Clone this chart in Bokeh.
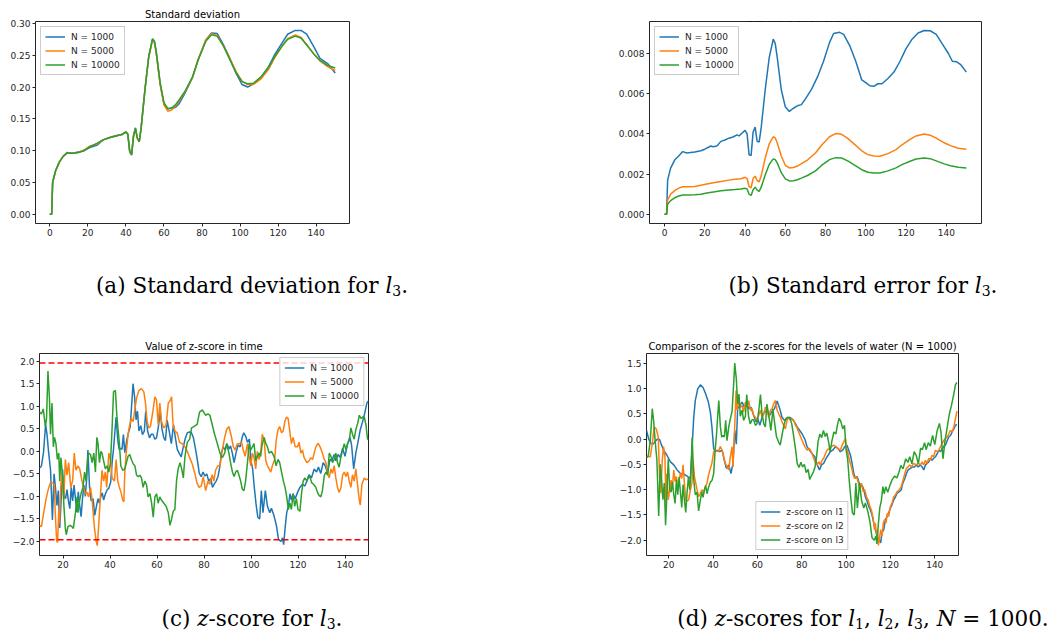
from bokeh.plotting import figure
from bokeh.layouts import column, row
from bokeh.models import (Div, Spacer, Legend, LegendItem, Span, Label, Range1d,
                          FixedTicker, CustomJSTickFormatter)
from bokeh.embed import file_html
from bokeh.resources import INLINE

# ---------------- data ----------------
# (a) standard deviation of l3
sd_x = [0, 1, 1.5, 3, 5, 7, 9, 12, 15, 18, 21, 25, 28, 32, 35, 38, 40, 41, 42, 43,
        44, 45, 46, 47, 48, 50, 52, 54, 55, 56, 58, 60, 62, 64, 66, 68, 71, 75, 78, 82,
        85, 88, 91, 94, 98, 101, 104, 107, 111, 115, 118, 122, 125, 129, 132, 135, 139, 142, 146, 150]
sd_n1000 = [0.0, 0.0, 0.05, 0.068, 0.082, 0.091, 0.097, 0.096, 0.098, 0.100,
            0.105, 0.109, 0.117, 0.121, 0.124, 0.125, 0.130, 0.126, 0.098, 0.093,
            0.124, 0.136, 0.120, 0.114, 0.136, 0.196, 0.248, 0.275, 0.271, 0.253,
            0.205, 0.173, 0.166, 0.167, 0.168, 0.174, 0.190, 0.215, 0.243, 0.274,
            0.285, 0.284, 0.268, 0.249, 0.221, 0.204, 0.200, 0.205, 0.215, 0.232,
            0.250, 0.269, 0.283, 0.289, 0.289, 0.283, 0.262, 0.245, 0.237, 0.222]
sd_n5000 = [0.0, 0.0, 0.05, 0.068, 0.082, 0.091, 0.096, 0.096, 0.097, 0.101,
            0.107, 0.111, 0.117, 0.121, 0.123, 0.126, 0.129, 0.126, 0.099, 0.094,
            0.123, 0.135, 0.119, 0.114, 0.136, 0.196, 0.247, 0.274, 0.270, 0.252,
            0.204, 0.172, 0.162, 0.164, 0.170, 0.178, 0.192, 0.215, 0.244, 0.274,
            0.284, 0.281, 0.266, 0.249, 0.224, 0.209, 0.204, 0.204, 0.213, 0.228,
            0.245, 0.264, 0.276, 0.282, 0.278, 0.267, 0.251, 0.241, 0.232, 0.226]
sd_n10000 = [0.0, 0.0, 0.05, 0.068, 0.082, 0.091, 0.096, 0.096, 0.097, 0.100,
             0.106, 0.112, 0.117, 0.121, 0.123, 0.126, 0.129, 0.126, 0.100, 0.094,
             0.122, 0.135, 0.120, 0.114, 0.135, 0.195, 0.248, 0.276, 0.272, 0.255,
             0.207, 0.176, 0.166, 0.167, 0.172, 0.180, 0.193, 0.216, 0.243, 0.272,
             0.282, 0.280, 0.266, 0.247, 0.222, 0.209, 0.205, 0.206, 0.216, 0.231,
             0.247, 0.264, 0.275, 0.280, 0.277, 0.266, 0.251, 0.242, 0.234, 0.230]

# (b) standard error of the mean
se_x = sd_x
se_n5000 = [0, 0, 0.0007, 0.001, 0.00118, 0.0013, 0.00137, 0.00137, 0.00138, 0.00145,
            0.00151, 0.00158, 0.00163, 0.0017, 0.00174, 0.00177, 0.00184, 0.00178, 0.00138, 0.00132,
            0.00178, 0.0019, 0.00168, 0.00162, 0.0019, 0.0028, 0.0035, 0.00386, 0.0038, 0.00355,
            0.0029, 0.00244, 0.00231, 0.00233, 0.0024, 0.00252, 0.0027, 0.00305, 0.00344, 0.00386,
            0.00402, 0.00398, 0.00378, 0.00352, 0.00316, 0.00297, 0.0029, 0.00289, 0.00302, 0.00322,
            0.00346, 0.00373, 0.0039, 0.004, 0.00394, 0.00379, 0.00356, 0.00342, 0.00329, 0.00324]
se_n10000 = [0, 0, 0.0005, 0.00068, 0.00082, 0.00091, 0.00096, 0.00096, 0.00097, 0.001,
             0.00106, 0.00112, 0.00117, 0.00121, 0.00123, 0.00126, 0.00129, 0.00126, 0.001, 0.00094,
             0.00122, 0.00135, 0.0012, 0.00114, 0.00135, 0.00195, 0.00248, 0.00276, 0.00272, 0.00255,
             0.00207, 0.00176, 0.00166, 0.00167, 0.00172, 0.0018, 0.00193, 0.00216, 0.00243, 0.00272,
             0.00282, 0.0028, 0.00266, 0.00247, 0.00222, 0.00209, 0.00205, 0.00206, 0.00216, 0.00231,
             0.00247, 0.00264, 0.00275, 0.0028, 0.00277, 0.00266, 0.00251, 0.00242, 0.00234, 0.0023]
se_n1000_pts = [(0, 0), (1, 0), (1.5, 0.0017), (3, 0.0023), (5, 0.0027), (7, 0.0029), (9, 0.00312),
                (11, 0.00305), (15, 0.0031), (18, 0.00316), (20, 0.00324), (23, 0.0034), (24, 0.00336),
                (26, 0.0034), (28, 0.00363), (30, 0.0037), (32, 0.00379), (34, 0.00385), (36, 0.00395),
                (37, 0.0039), (38, 0.004), (40, 0.00418), (41, 0.004), (42, 0.00296), (43, 0.00293),
                (44, 0.0041), (45, 0.00434), (46, 0.00363), (47, 0.0036), (48, 0.0043), (50, 0.0062),
                (52, 0.0078), (54, 0.00872), (55, 0.0085), (56, 0.0078), (58, 0.0062), (60, 0.00535),
                (62, 0.00512), (64, 0.00528), (66, 0.0054), (68, 0.00546), (70, 0.00575), (73, 0.00622),
                (76, 0.00684), (79, 0.00762), (82, 0.00856), (84, 0.009), (87, 0.00906), (89, 0.00896),
                (92, 0.0084), (95, 0.00762), (98, 0.00669), (100, 0.00656), (102, 0.0064), (104, 0.00637),
                (106, 0.0065), (108, 0.0065), (111, 0.00676), (114, 0.00708), (117, 0.00762),
                (120, 0.00825), (123, 0.00872), (126, 0.00903), (129, 0.00915), (132, 0.00914),
                (135, 0.00896), (138, 0.00849), (141, 0.00802), (143, 0.00762), (145, 0.0076),
                (147, 0.00747), (150, 0.00708)]

# (c)/(d) z-scores
z_crit = 1.96
z_l3_n1000_pts = [(10, -0.37), (10.8, -0.33), (11.7, -0.03), (12.6, 0.6), (13.2, 0.37), (13.9, -0.03),
    (14.7, -0.42), (15.5, -1.52), (16.2, -0.5), (16.8, -0.81), (17.4, -1.2), (18, -0.87), (18.6, -1.7),
    (19.2, -1.1), (19.8, -0.4), (20.5, -1.0), (21.1, -1.05), (21.7, -0.85), (22.3, -1.1), (22.9, -1.27),
    (23.5, -0.8), (24.1, -1.1), (24.7, -0.75), (25.3, -1.05), (25.9, -1.35), (26.5, -0.9), (27.1, -1.2),
    (27.7, -1.45), (28.3, -1.05), (28.9, -0.75), (29.5, -1.0), (30.1, -0.6), (30.6, 0.03), (31.3, -0.8),
    (32, -1.1), (32.8, -1.05), (33.5, -1.42), (34.3, -1.2), (34.9, -1.05), (35.5, -1.15), (36.1, -1.0),
    (36.7, -0.92), (37.3, -1.08), (38, -0.95), (38.8, -0.85), (39.5, -0.82), (40.3, -0.68), (40.9, -0.25),
    (41.5, 0.05), (42.1, 0.45), (42.6, 0.76), (43.3, 0.25), (43.9, 0.04), (44.5, 0.07), (45.1, 0.04),
    (45.7, 0.37), (46.3, -0.03), (47.1, 0.24), (47.8, 0.4), (48.6, 0.55), (49.3, 1.09), (49.8, 1.5),
    (50.5, 1.19), (51.1, 0.7), (51.7, 0.89), (52.3, 0.45), (53.1, 0.57), (53.8, 0.37), (54.6, 0.45),
    (55.2, 0.88), (56, 0.45), (56.8, 0.3), (57.6, 0.38), (58.3, 0.38), (59.1, 0.27), (59.8, 0.3),
    (60.6, 0.55), (61.4, 0.88), (62.1, 0.5), (62.9, 0.3), (63.6, 0.24), (64.3, 0.69), (65.2, 0.45),
    (66.1, 0.17), (67, 0.59), (67.8, 0.31), (68.6, 0.05), (69.5, -0.05), (70.3, -0.12), (71.2, 0.1),
    (72, 0.28), (72.9, 0.41), (73.8, 0.43), (74.6, 0.42), (75.5, 0.3), (76.4, 0.05), (77.2, -0.2),
    (78, -0.49), (78.8, -0.56), (79.6, -0.46), (80.4, -0.55), (81.2, -0.5), (82, -0.66), (82.9, -0.6),
    (83.6, -0.8), (84.4, -0.72), (85.2, -0.66), (86, -0.55), (86.7, -0.35), (87.4, -0.04), (88.2, 0.1),
    (89, 0.03), (89.8, 0.17), (90.6, 0.05), (91.3, 0.12), (92.1, -0.05), (92.8, -0.25), (93.6, -0.04),
    (94.5, 0.14), (95.4, 0.1), (96.2, 0.3), (96.9, 0.41), (97.7, 0.34), (98.5, 0.2), (99.3, 0.27),
    (100, -0.21), (100.7, -0.39), (101.4, -0.8), (102.1, -1.15), (102.9, -1.46), (103.7, -1.5),
    (104.4, -0.87), (105.1, -1.36), (106.1, -0.87), (107, -1.22), (108, -1.36), (108.7, -1.26),
    (109.8, -1.43), (110.8, -1.64), (111.7, -1.95), (112.7, -2.0), (113.4, -1.92), (113.9, -2.07),
    (114.5, -1.71), (115.2, -1.36), (115.9, -1.22), (116.6, -0.94), (117.2, -1.08), (117.9, -0.94),
    (118.8, -1.05), (119.8, -0.91), (120.8, -0.8), (121.9, -0.73), (122.9, -0.77), (123.8, -0.66),
    (124.7, -0.52), (125.7, -0.59), (126.9, -0.39), (127.9, -0.46), (128.7, -0.35), (129.7, -0.49),
    (130.7, -0.25), (131.6, -0.32), (132.6, -0.49), (133.6, -0.18), (134.4, -0.21), (135.4, -0.07),
    (136.1, -0.21), (137.1, -0.07), (138, -0.14), (139, 0.07), (140, -0.11), (141.1, 0.17), (142.1, 0.31),
    (142.8, 0.14), (143.7, -0.39), (144.6, -0.04), (145.4, 0.17), (146.5, 0.48), (147.5, 0.66),
    (148.5, 0.87), (149.3, 1.07), (150, 1.12)]

z_l3_n5000_pts = [(10, -1.64), (10.8, -1.67), (11.8, -1.36), (12.7, -1.08), (13.6, -0.87), (14.6, -0.7),
    (15.6, -0.7), (16.3, -0.73), (16.7, -1.36), (17.3, -1.99), (17.7, -2.02), (18.2, -1.29), (18.5, -1.6),
    (19, -0.8), (19.6, -0.46), (20.3, -1.08), (21, -0.18), (21.7, -0.53), (22.4, -0.25), (23.3, -0.8),
    (24.1, -0.66), (24.8, -0.04), (25.5, -0.42), (26.4, -0.32), (27.1, -0.39), (28.1, -0.66), (28.8, -0.8),
    (29.5, -0.94), (30.2, -0.91), (30.9, -1.01), (31.7, -0.8), (32.4, -1.08), (33.4, -1.71), (34.1, -1.99),
    (34.6, -2.09), (35.2, -1.64), (35.9, -1.01), (36.6, -0.42), (37.3, -0.66), (38, -0.46), (38.6, -0.8),
    (39.5, -0.04), (40.2, -0.18), (40.9, -0.59), (41.9, -0.66), (42.6, -0.18), (43.3, -0.66), (44, -0.8),
    (44.7, -0.91), (45.4, -1.08), (45.9, -1.12), (46.3, -0.46), (46.9, -0.04), (47.7, 0.38), (48.4, 0.59),
    (49.1, 0.73), (49.9, 0.66), (50.6, 0.94), (51.3, 1.18), (52.3, 1.35), (53.4, 1.39), (54.4, 1.32),
    (55.1, 1.07), (55.8, 0.66), (56.5, 0.52), (57.2, 0.55), (58.2, 0.87), (59.1, 1.21), (59.8, 1.14),
    (60.5, 0.59), (61.2, 1.07), (61.9, 0.66), (62.9, 0.52), (63.9, 0.59), (64.8, 1.07), (65.5, 1.11),
    (66.2, 1.21), (66.8, 0.62), (67.6, 0.45), (68.6, 0.41), (69.6, 0.2), (70.7, 0.17), (71.9, 0.1),
    (72.9, 0.0), (73.9, -0.14), (75, -0.28), (76.1, -0.49), (77, -0.7), (77.9, -0.8), (78.8, -0.77),
    (79.7, -0.56), (80.7, -0.87), (81.7, -0.66), (82.5, -0.73), (83.5, -0.52), (84.2, -0.66), (84.9, -0.42),
    (85.9, -0.32), (86.8, -0.32), (87.8, 0.03), (88.8, 0.31), (89.6, 0.48), (90.6, 0.55), (91.6, 0.34),
    (92.5, 0.1), (93.2, 0.03), (94.2, 0.17), (95.2, 0.17), (96, 0.2), (96.7, 0.03), (97.5, -0.11),
    (98.5, 0.17), (99.2, -0.11), (99.9, -0.32), (100.6, -0.04), (101.3, -0.14), (102, -0.39), (102.7, 0.0),
    (103.4, -0.18), (104.1, -0.04), (104.8, 0.38), (105.6, 0.24), (106.3, -0.21), (107, -0.32),
    (107.7, -0.39), (108.4, -0.46), (109.1, -0.32), (110.1, -0.18), (110.7, 0.24), (111.5, 0.48),
    (112.2, 0.55), (113, 0.41), (113.7, 0.45), (114.4, 0.66), (115.1, 0.76), (115.8, 0.73), (116.5, 0.45),
    (117.2, 0.17), (117.9, 0.31), (118.8, 0.1), (119.8, 0.1), (120.5, 0.2), (121.2, -0.04), (121.9, 0.03),
    (122.6, -0.14), (123.8, -0.25), (124.7, -0.21), (125.5, -0.14), (126.2, -0.18), (126.9, -0.04),
    (127.6, 0.1), (128.6, 0.18), (129.4, 0.1), (130.4, -0.04), (131.2, -0.18), (131.9, -0.25),
    (132.6, -0.49), (133.3, -0.59), (134, -0.39), (134.7, -0.49), (135.4, -0.32), (136.1, -0.59),
    (136.8, -0.8), (137.5, -0.91), (138.3, -0.8), (139, -0.52), (139.7, -0.46), (140.4, -0.56),
    (141.1, -0.46), (141.8, -0.66), (142.5, -0.8), (143.2, -0.52), (143.9, -0.66), (144.6, -0.39),
    (145.4, -0.77), (146.1, -1.08), (146.5, -1.19), (147.2, -0.73), (148.2, -0.59), (148.9, -0.63),
    (150, -0.61)]

z_l3_n10000_pts = [(10, 0.87), (10.8, 0.83), (11.6, 0.94), (12.5, 0.55), (13, 0.73), (13.6, 1.78),
    (14.2, 1.21), (14.7, 0.38), (15.3, 1.07), (15.9, 0.1), (16.4, 0.31), (17, 0.17), (17.6, -0.18),
    (18.2, -0.04), (18.6, -0.66), (19.1, -0.14), (19.9, -0.59), (20.4, -1.22), (21, -1.71), (21.4, -1.85),
    (22.1, -1.67), (23, -1.64), (23.8, -1.67), (24.4, -1.71), (25.3, -1.36), (26, -1.01), (26.4, -1.36),
    (27.1, -1.08), (27.8, -0.91), (28.5, -0.8), (29.2, -0.46), (29.8, -0.66), (30.5, -0.18), (30.9, -0.04),
    (31.7, -0.07), (32.4, -0.25), (33.1, -0.04), (33.8, -0.46), (34.4, 0.31), (34.9, 0.17), (35.5, -0.25),
    (36.1, 0.0), (36.6, -0.04), (37.3, -0.21), (38, -0.39), (38.8, -0.32), (39.5, -0.46), (40.2, -0.25),
    (40.9, 0.52), (41.5, 1.32), (42.3, 1.35), (42.9, 0.8), (43.5, 0.45), (44, 0.17), (44.6, -0.32),
    (45.4, -0.42), (46.3, -0.39), (47, -0.25), (47.7, -0.11), (48.4, -0.07), (49.1, -0.18), (49.9, -0.28),
    (50.6, -0.32), (51.3, -0.53), (52, -0.56), (52.7, -0.53), (53.4, -0.59), (54.1, -0.8), (54.8, -0.66),
    (55.5, -0.73), (56.2, -1.01), (57, -0.94), (57.7, -1.15), (58.4, -1.46), (59.1, -1.01), (59.8, -0.94),
    (60.5, -1.15), (61.2, -1.01), (61.9, -1.08), (62.9, -1.15), (63.9, -1.22), (64.8, -1.36), (65.5, -1.64),
    (66.2, -1.5), (66.9, -1.33), (67.6, -1.29), (68.3, -0.66), (69, -0.39), (69.8, -0.25), (70.5, -0.39),
    (71.2, -0.59), (71.9, -0.11), (72.9, 0.2), (73.9, 0.27), (74.7, 0.52), (75.7, 0.55), (77.1, 0.6),
    (78.1, 0.87), (79.3, 0.92), (80.7, 0.8), (81.7, 0.83), (82.5, 0.8), (83.5, 0.59), (84.5, 0.38),
    (85.7, 0.17), (86.8, -0.04), (87.8, -0.14), (88.8, -0.04), (89.6, 0.17), (90.6, -0.04), (91.3, -0.25),
    (92.1, -0.46), (92.8, -0.56), (93.5, -0.46), (94.2, -0.42), (94.9, -0.53), (95.6, -0.66), (96.3, -0.84),
    (97, -0.87), (97.7, -0.66), (98.5, -0.25), (99.2, 0.17), (99.9, 0.03), (100.6, 0.1), (101.3, 0.17),
    (102, -0.21), (102.7, -0.11), (103.4, -0.04), (104.1, -0.11), (104.8, 0.17), (105.6, 0.31),
    (106.3, 0.17), (107, 0.1), (107.7, -0.04), (108.7, 0.0), (109.8, -0.11), (110.7, -0.32), (111.5, -0.18),
    (112.2, -0.25), (113, -0.46), (113.8, -0.66), (114.5, -0.8), (115.2, -1.01), (115.9, -1.29),
    (116.6, -1.15), (117.2, -1.29), (117.9, -0.94), (118.6, -1.22), (119.3, -1.05), (120, -1.29),
    (120.8, -1.33), (121.5, -0.94), (122.2, -0.66), (122.9, -0.59), (123.8, -0.66), (124.5, -0.56),
    (125.2, -0.59), (125.9, -0.7), (126.6, -0.73), (127.6, -0.8), (128.3, -0.91), (129, -0.98),
    (129.7, -1.01), (130.4, -0.87), (131.2, -0.53), (131.9, -0.46), (132.6, -0.53), (133.3, -0.04),
    (134, -0.11), (134.7, -0.25), (135.4, -0.18), (136.1, -0.04), (136.8, -0.25), (137.5, -0.35),
    (138.3, -0.11), (139, 0.03), (139.7, 0.17), (140.4, 0.03), (141.1, 0.17), (141.8, 0.24), (142.5, 0.52),
    (143.2, 0.38), (143.9, 0.27), (144.6, 0.48), (145.4, 0.62), (146.1, 0.8), (146.8, 0.73), (147.5, 0.76),
    (148.2, 0.76), (148.9, 0.59), (149.6, 0.27), (150, 0.27)]

z_l1_n1000_pts = [(10, 0.17), (11, 0.0), (12, -0.09), (13, -0.1), (14, -0.04), (15, 0.0), (15.9, -0.01),
    (16.8, -0.12), (17.7, -0.22), (19.2, -0.32), (20.8, -0.45), (22.3, -0.51), (23.8, -0.61), (25.3, -0.68),
    (26.8, -0.69), (28.3, -0.73), (29.8, -0.78), (30.5, -0.22), (31.3, 0.43), (32, 0.76), (33.1, 0.99),
    (34.3, 1.07), (35.5, 1.02), (36.7, 0.89), (37.9, 0.73), (38.8, 0.53), (39.5, 0.24), (40.3, -0.19),
    (41.1, -0.25), (41.8, -0.22), (43, -0.25), (44.1, -0.22), (45.1, -0.42), (46, -0.58), (47.1, -0.51),
    (48.1, -0.68), (49, -0.48), (49.8, 0.17), (50.5, -0.1), (51.1, 0.6), (52, 0.66), (53.1, 0.73),
    (54.1, 0.63), (55, 0.7), (56.1, 0.6), (57.1, 0.63), (58.3, 0.47), (59.4, 0.34), (60.2, 0.4),
    (61.1, 0.27), (62.1, 0.43), (63.2, 0.53), (64.4, 0.56), (65.6, 0.47), (66.6, 0.55), (67.7, 0.6),
    (68.9, 0.75), (70.1, 0.6), (71.1, 0.43), (72.2, 0.37), (73.4, 0.4), (74.6, 0.43), (75.6, 0.4),
    (76.7, 0.34), (77.9, 0.24), (78.6, 0.2), (80.2, 0.1), (81.4, 0.0), (82.4, -0.15), (83.5, -0.22),
    (84.7, -0.29), (85.9, -0.35), (86.5, -0.45), (87.4, -0.55), (88, -0.61), (88.9, -0.51), (89.9, -0.48),
    (91, -0.38), (91.9, -0.32), (92.9, -0.25), (94, -0.22), (95.2, -0.15), (96.4, -0.19), (97.4, -0.25),
    (98.5, -0.22), (99.4, -0.15), (100.4, -0.12), (101.2, -0.22), (102, -0.32), (102.7, -0.48),
    (103.5, -0.68), (104.2, -0.78), (105, -0.74), (105.7, -0.84), (106.5, -0.94), (107.2, -0.91),
    (108, -1.0), (108.7, -1.14), (109.5, -1.23), (110.2, -1.33), (111, -1.4), (111.7, -1.5), (112.5, -1.66),
    (113.2, -1.79), (114, -1.92), (114.4, -2.02), (115, -1.99), (115.6, -2.05), (116.2, -1.85),
    (117, -1.79), (117.7, -1.59), (118.5, -1.53), (119.2, -1.46), (120, -1.36), (120.7, -1.3),
    (121.5, -1.2), (122.3, -1.14), (123, -1.07), (124, -1.04), (124.9, -1.0), (125.6, -0.87),
    (126.5, -0.78), (127.2, -0.68), (128, -0.61), (129, -0.58), (129.8, -0.55), (130.8, -0.55),
    (131.7, -0.51), (132.5, -0.55), (133.5, -0.51), (134.3, -0.55), (135, -0.61), (135.8, -0.51),
    (136.5, -0.48), (137.3, -0.45), (138, -0.38), (138.8, -0.42), (139.5, -0.38), (140.3, -0.35),
    (141.1, -0.29), (141.8, -0.22), (142.6, -0.25), (143.3, -0.19), (144, -0.15), (144.8, -0.12),
    (145.6, -0.03), (146.3, 0.04), (147.1, 0.07), (147.8, 0.14), (148.6, 0.2), (149.3, 0.27), (150, 0.29)]

z_l2_n1000_pts = [(10, -0.35), (11, -0.35), (11.7, -0.35), (12.6, -0.09), (13.5, 0.24), (14.4, 0.2),
    (15.3, 0.04), (15.9, -0.74), (16.5, -1.07), (17.1, -0.42), (17.7, -0.15), (18.3, -0.35), (18.8, -1.27),
    (19.2, -0.68), (19.8, -1.2), (20.5, -1.0), (21.1, -0.81), (21.7, -0.94), (22.3, -0.61), (22.9, -0.84),
    (23.5, -0.74), (24.1, -1.0), (24.7, -0.81), (25.3, -0.68), (25.9, -0.78), (26.5, -0.51), (27.1, -0.87),
    (27.7, -1.2), (28.3, -1.23), (29, -1.2), (29.8, -1.0), (30.5, -0.87), (31, -0.42), (31.6, -0.74),
    (32.2, -0.87), (32.8, -1.0), (33.5, -1.14), (34.3, -1.07), (35, -1.0), (35.8, -1.07), (36.5, -0.94),
    (37.3, -0.87), (38, -0.71), (38.8, -0.58), (39.5, -0.48), (40.3, -0.25), (41.1, -0.22), (41.8, -0.25),
    (42.6, -0.22), (43.3, -0.15), (44.1, -0.22), (44.8, -0.35), (45.6, -0.48), (46.3, -0.55), (47.1, -0.61),
    (47.8, -0.35), (48.6, -0.15), (49, -0.55), (49.6, 0.04), (50.4, 0.96), (50.8, 0.57), (51.6, 0.76),
    (52.3, 0.63), (53.1, 0.66), (53.8, 0.53), (54.6, 0.73), (55.3, 0.63), (56.1, 0.76), (56.8, 0.57),
    (57.6, 0.6), (58.3, 0.47), (59.1, 0.43), (59.8, 0.37), (60.6, 0.47), (61.4, 0.57), (62.1, 0.43),
    (62.9, 0.5), (63.6, 0.63), (64.4, 0.57), (65.1, 0.43), (65.9, 0.57), (66.6, 0.6), (67.4, 0.7),
    (68.1, 0.76), (68.9, 0.57), (69.6, 0.5), (70.4, 0.43), (71.1, 0.34), (71.9, 0.27), (72.6, 0.2),
    (73.4, 0.37), (74.1, 0.43), (74.9, 0.37), (75.6, 0.4), (76.4, 0.37), (77.1, 0.28), (77.9, 0.22),
    (78.6, 0.14), (80.2, -0.03), (81.4, -0.15), (82.4, -0.22), (83.5, -0.19), (84.7, -0.29), (85.4, -0.38),
    (86.2, -0.48), (86.9, -0.51), (87.7, -0.45), (88.4, -0.51), (89.2, -0.42), (89.9, -0.38), (90.7, -0.29),
    (91.4, -0.22), (92.2, -0.19), (93.4, -0.15), (94.4, -0.12), (95.5, -0.15), (96.4, -0.19), (97.4, -0.22),
    (98.2, -0.12), (98.9, -0.06), (99.7, 0.01), (100.1, -0.15), (100.9, -0.29), (101.7, -0.45),
    (102.4, -0.55), (103.2, -0.71), (103.9, -0.78), (104.7, -0.74), (105.4, -0.84), (106.2, -1.0),
    (106.9, -0.87), (107.7, -1.04), (108.4, -1.0), (109.2, -1.14), (109.9, -1.2), (110.7, -1.33),
    (111.4, -1.4), (112.2, -1.56), (112.8, -1.79), (113.2, -1.66), (113.7, -1.89), (114.1, -1.79),
    (114.6, -2.1), (115.2, -1.92), (115.6, -1.79), (116.2, -1.92), (116.8, -1.66), (117.4, -1.59),
    (118, -1.66), (118.6, -1.46), (119.2, -1.53), (120, -1.33), (120.7, -1.27), (121.5, -1.14),
    (122.3, -1.1), (123, -1.04), (124, -1.0), (124.9, -0.94), (125.7, -0.81), (126.5, -0.68),
    (127.2, -0.58), (128, -0.55), (128.7, -0.51), (129.5, -0.55), (130.5, -0.48), (131.6, -0.51),
    (132.5, -0.48), (133.5, -0.51), (134.3, -0.45), (135, -0.51), (135.8, -0.42), (136.5, -0.48),
    (137.3, -0.38), (138, -0.42), (138.8, -0.32), (139.5, -0.35), (140.3, -0.22), (141.1, -0.25),
    (141.8, -0.22), (142.6, -0.15), (143.3, -0.09), (144, -0.03), (144.8, 0.01), (145.6, 0.04),
    (146.3, 0.1), (147.1, 0.17), (147.8, 0.14), (148.6, 0.24), (149.3, 0.4), (150, 0.55)]

n_labels = ["N = 1000", "N = 5000", "N = 10000"]
l_labels = ["z-score on l1", "z-score on l2", "z-score on l3"]
ticks_x_full = [0, 20, 40, 60, 80, 100, 120, 140]
ticks_x_z = [20, 40, 60, 80, 100, 120, 140]
ticks_sd = [0.0, 0.05, 0.10, 0.15, 0.20, 0.25, 0.30]
ticks_se = [0.0, 0.002, 0.004, 0.006, 0.008]
ticks_zc = [-2.0, -1.5, -1.0, -0.5, 0.0, 0.5, 1.0, 1.5, 2.0]
ticks_zd = [-2.0, -1.5, -1.0, -0.5, 0.0, 0.5, 1.0, 1.5]

# ---------------- styling helpers ----------------
BLUE, ORANGE, GREEN = "#1f77b4", "#ff7f0e", "#2ca02c"
FONT = "DejaVu Sans"
INK = "#262626"


def split(pts):
    return [p[0] for p in pts], [p[1] for p in pts]


def make_fig(w, h, left, right, top, bottom, xr, yr, xticks, yticks, xdec, ydec, title=None):
    kw = dict(width=w, height=h, x_range=Range1d(*xr), y_range=Range1d(*yr),
              output_backend="svg", toolbar_location=None,
              min_border_left=left, min_border_right=right,
              min_border_top=top, min_border_bottom=bottom)
    if title is None:
        p = figure(title=None, **kw)
    else:
        p = figure(title=title, **kw)
        p.title.align = "center"
        p.title.text_font = FONT
        p.title.text_font_size = "10px"
        p.title.text_font_style = "normal"
        p.title.text_color = "#000000"
        p.title.standoff = 3
    p.xgrid.visible = False
    p.ygrid.visible = False
    p.outline_line_color = INK
    p.outline_line_alpha = 1.0
    p.outline_line_width = 1
    p.background_fill_color = "white"
    p.border_fill_color = "white"
    for ax, ticks, dec in ((p.xaxis[0], xticks, xdec), (p.yaxis[0], yticks, ydec)):
        ax.ticker = FixedTicker(ticks=ticks)
        ax.formatter = CustomJSTickFormatter(
            code="return tick.toFixed(%d).replace('-', '\\u2212');" % dec)
        ax.axis_line_color = None
        ax.major_tick_line_color = INK
        ax.major_tick_out = 3
        ax.major_tick_in = 0
        ax.minor_tick_line_color = None
        ax.major_label_text_font = FONT
        ax.major_label_text_font_size = "9px"
        ax.major_label_text_color = INK
        ax.major_label_standoff = 2
    return p


def add_legend(p, renderers, labels, loc, margin):
    items = [LegendItem(label=lab, renderers=[r]) for lab, r in zip(labels, renderers)]
    leg = Legend(items=items, location=loc, margin=margin, padding=4, spacing=3,
                 glyph_width=20, glyph_height=11, label_height=11, label_standoff=6,
                 label_text_font=FONT, label_text_font_size="9px", label_text_color=INK,
                 border_line_color="#cccccc", border_line_alpha=1.0,
                 background_fill_color="white", background_fill_alpha=0.8)
    p.add_layout(leg)


SUB = '<sub style="font-size:14px;vertical-align:-3px;line-height:0">%s</sub>'


def caption(html, w, h, pad):
    style = ("width:%dpx;text-align:center;white-space:nowrap;font-family:'DejaVu Serif';"
             "font-size:21.5px;line-height:24px;padding-top:%dpx;color:#000;") % (w, pad)
    return Div(text='<div style="%s">%s</div>' % (style, html), width=w, height=h,
               margin=(0, 0, 0, 0))


LW = 1.5

# (a)
pa = make_fig(360, 250, 35, 11, 21, 24, (-7.5, 157.5), (-0.0144, 0.303),
              ticks_x_full, ticks_sd, 0, 2, title="Standard deviation")
ra = [pa.line(sd_x, ys, line_color=c, line_width=LW)
      for ys, c in ((sd_n1000, BLUE), (sd_n5000, ORANGE), (sd_n10000, GREEN))]
add_legend(pa, ra, n_labels, "top_left", 5)

# (b)
pb = make_fig(400, 250, 49, 19, 6, 27, (-7.5, 157.5), (-0.00046, 0.0096),
              ticks_x_full, ticks_se, 0, 3, title=None)
bx1, by1 = split(se_n1000_pts)
rb = [pb.line(bx1, by1, line_color=BLUE, line_width=LW),
      pb.line(se_x, se_n5000, line_color=ORANGE, line_width=LW),
      pb.line(se_x, se_n10000, line_color=GREEN, line_width=LW)]
add_legend(pb, rb, n_labels, "top_left", 5)
pb.add_layout(Label(x=75, y=0.0096, text="Standard error of the mean", text_align="center",
                    text_baseline="alphabetic", y_offset=3, text_font=FONT,
                    text_font_size="10px", text_color="#000000"))

# (c)
pc = make_fig(380, 275, 39, 12, 29, 30, (10, 150), (-2.31, 2.17),
              ticks_x_z, ticks_zc, 0, 1, title="Value of z-score in time")
rc = []
for pts, c in ((z_l3_n1000_pts, BLUE), (z_l3_n5000_pts, ORANGE), (z_l3_n10000_pts, GREEN)):
    xs, ys = split(pts)
    rc.append(pc.line(xs, ys, line_color=c, line_width=LW))
for loc in (z_crit, -z_crit):
    pc.add_layout(Span(location=loc, dimension="width", line_color="red",
                       line_dash="6 3", line_width=1.5))
add_legend(pc, rc, n_labels, "top_right", 4)

# (d)
pd_ = make_fig(380, 275, 46, 22, 43, 29, (10, 150.7), (-2.30, 1.69),
               ticks_x_z, ticks_zd, 0, 1,
               title="Comparison of the z-scores for the levels of water (N = 1000)")
rd = []
for pts, c in ((z_l1_n1000_pts, BLUE), (z_l2_n1000_pts, ORANGE), (z_l3_n1000_pts, GREEN)):
    xs, ys = split(pts)
    rd.append(pd_.line(xs, ys, line_color=c, line_width=LW))
add_legend(pd_, rd, l_labels, "bottom_center", 5)

cap_a = caption('(a) Standard deviation for <i>l</i>' + SUB % '3' + '.', 504, 60, 24)
cap_b = caption('(b) Standard error for <i>l</i>' + SUB % '3' + '.', 382, 60, 24)
cap_c = caption('(c) <i>z</i>-score for <i>l</i>' + SUB % '3' + '.', 504, 52, 22)
cap_d = caption('(d) <i>z</i>-scores for <i>l</i>' + SUB % '1' + ', <i>l</i>' + SUB % '2'
                + ', <i>l</i>' + SUB % '3' + ', <i>N</i> = 1000.', 382, 52, 22)

layout = column(
    row(pa, Spacer(width=240, height=250), pb),
    row(cap_a, Spacer(width=168, height=60), cap_b),
    row(pc, Spacer(width=220, height=275), pd_),
    row(cap_c, Spacer(width=168, height=52), cap_d),
)

open("out.html", "w").write(file_html(layout, INLINE))
